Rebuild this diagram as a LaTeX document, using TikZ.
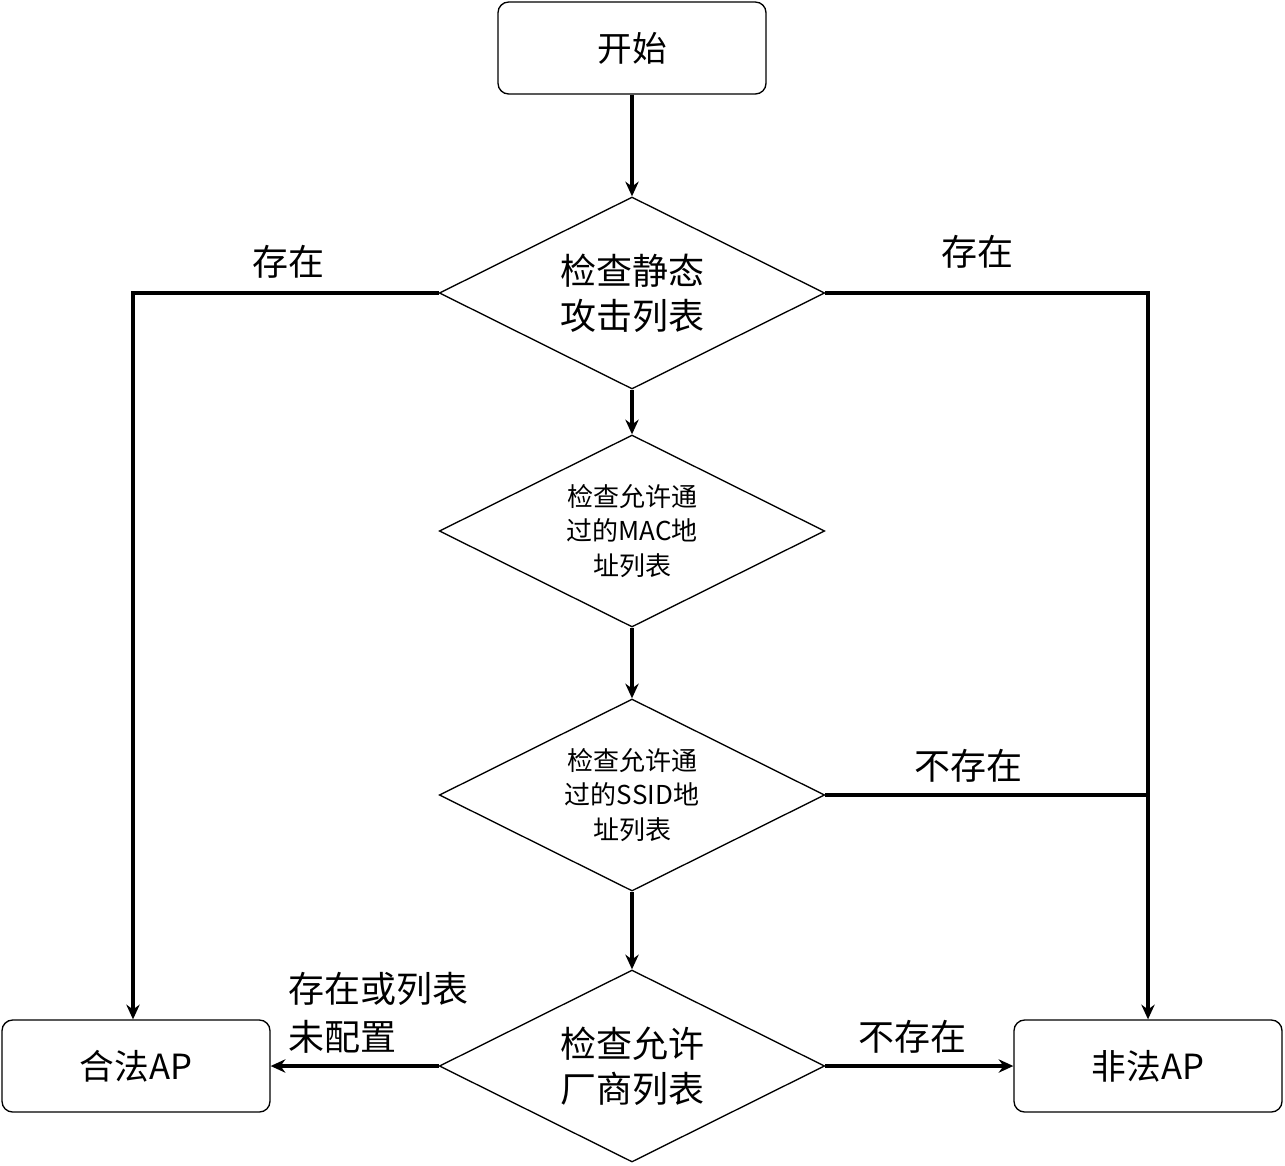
\documentclass[tikz,border=0pt]{standalone}
\usepackage{fontspec}
\setmainfont{Noto Sans CJK SC}
\usetikzlibrary{shapes.geometric,arrows.meta}
\begin{document}
\begin{tikzpicture}[x=0.75pt,y=-0.75pt,
  box/.style={draw,line width=1pt,rounded corners=8pt,minimum width=201pt,minimum height=69pt,font=\fontsize{26}{30}\selectfont},
  dia/.style={draw,line width=1pt,diamond,minimum width=289pt,minimum height=144pt,inner sep=0pt},
  big/.style={align=center,font=\fontsize{27}{34}\selectfont},
  small/.style={align=center,font=\fontsize{19.5}{26}\selectfont},
  con/.style={line width=2.6pt},
  arr/.style={con,-{Stealth[length=11pt,width=10pt]}},
  lab/.style={font=\fontsize{27}{30}\selectfont}]
\useasboundingbox (0,0) rectangle (1285,1165);
\node[box] (s) at (632,48) {开始};
\node[dia] (d1) at (632,293) {};
\node[big] (d1t) at (632,293) {检查静态\\攻击列表};
\node[dia] (d2) at (632,531) {};
\node[small] (d2t) at (632,531) {检查允许通\\过的MAC地\\址列表};
\node[dia] (d3) at (632,795) {};
\node[small] (d3t) at (632,795) {检查允许通\\过的SSID地\\址列表};
\node[dia] (d4) at (632,1066) {};
\node[big] (d4t) at (632,1066) {检查允许\\厂商列表};
\node[box] (ok) at (136,1066) {合法AP};
\node[box] (bad) at (1148,1066) {非法AP};
\coordinate (l1) at (133,293);
\coordinate (r1) at (1148,293);
\coordinate (r3) at (1148,795);
\draw[arr] (s) -- (d1);
\draw[arr] (d1) -- (d2);
\draw[arr] (d2) -- (d3);
\draw[arr] (d3) -- (d4);
\draw[arr] (d1.west) -- (l1) -- (l1 |- ok.north);
\draw[arr] (d1.east) -- (r1) -- (r1 |- bad.north);
\draw[con] (d3.east) -- (r3);
\draw[arr] (d4.west) -- (ok.east);
\draw[arr] (d4.east) -- (bad.west);
\node[lab] (t1) at (288,262) {存在};
\node[lab] (t2) at (977,252) {存在};
\node[lab] (t3) at (968,766) {不存在};
\node[lab,align=left,anchor=west,font=\fontsize{27}{36}\selectfont] (t4) at (284,1013) {存在或列表\\未配置};
\node[lab] (t5) at (912,1037) {不存在};
\end{tikzpicture}
\end{document}
